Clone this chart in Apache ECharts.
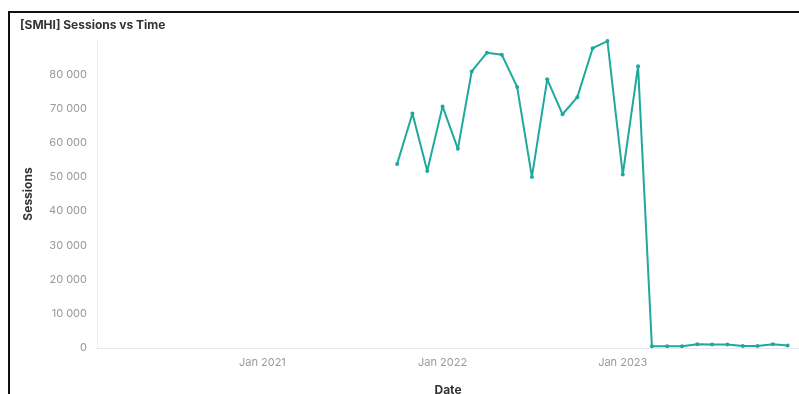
<!DOCTYPE html>
<html>
<head>
<meta charset="utf-8">
<script src="https://cdn.jsdelivr.net/npm/echarts@6/dist/echarts.min.js"></script>
<style>
html,body{margin:0;padding:0;background:#fff;overflow:hidden;}
#c{width:799px;height:394px;}
</style>
</head>
<body>
<div id="c"></div>
<script>
const titleText = '[SMHI] Sessions vs Time';
const dates = ['2021-10-01','2021-11-01','2021-12-01','2022-01-01','2022-02-01','2022-03-01','2022-04-01','2022-05-01','2022-06-01','2022-07-01','2022-08-01','2022-09-01','2022-10-01','2022-11-01','2022-12-01','2023-01-01','2023-02-01','2023-03-01','2023-04-01','2023-05-01','2023-06-01','2023-07-01','2023-08-01','2023-09-01','2023-10-01','2023-11-01','2023-12-01'];
const sessions = [53800,68500,51700,70600,58200,80800,86300,85700,76300,50000,78500,68300,73300,87600,89700,50700,82300,500,500,500,1100,1000,1000,600,600,1100,700];
const xMin = '2020-02-01';
const xMax = '2023-12-24';
const yMax = 90000;
const yInterval = 10000;

const chart = echarts.init(document.getElementById('c'));
const font = 'Inter, "Noto Sans", sans-serif';
chart.setOption({
  animation: false,
  title: {
    text: titleText, left: 15, top: 14,
    textStyle: {fontFamily: font, fontSize: 12, fontWeight: 'bold', color: '#333'}
  },
  graphic: [
    {type: 'rect', shape: {x: 8, y: 11, width: 791, height: 2}, style: {fill: '#111'}},
    {type: 'rect', shape: {x: 8, y: 11, width: 2, height: 383}, style: {fill: '#111'}}
  ],
  grid: {left: 97, right: 0, top: 40, bottom: 46, outerBoundsMode: 'none', containLabel: false},
  xAxis: {
    type: 'time', min: xMin, max: xMax,
    name: 'Date', nameLocation: 'middle', nameGap: 36,
    nameTextStyle: {fontFamily: font, fontSize: 12, fontWeight: 'bold', color: '#333'},
    axisLine: {show: true, lineStyle: {color: '#e6e6ec', width: 1}},
    axisTick: {show: false},
    splitLine: {show: false},
    axisLabel: {
      fontFamily: font, fontSize: 11, color: '#999', margin: 9,
      hideOverlap: false,
      formatter: function (v) {
        const d = new Date(v);
        if (d.getMonth() === 0 && d.getDate() === 1) return 'Jan ' + d.getFullYear();
        return '';
      }
    }
  },
  yAxis: {
    type: 'value', min: 0, max: yMax, interval: yInterval,
    name: 'Sessions', nameLocation: 'middle', nameGap: 63,
    nameTextStyle: {fontFamily: font, fontSize: 12, fontWeight: 'bold', color: '#333'},
    axisLine: {show: true, lineStyle: {color: '#eeeef2', width: 1}},
    axisTick: {show: false},
    splitLine: {show: false},
    axisLabel: {
      fontFamily: font, fontSize: 11, color: '#999', margin: 10, showMaxLabel: false,
      formatter: function (v) { return String(v).replace(/\B(?=(\d{3})+(?!\d))/g, ' '); }
    }
  },
  series: [{
    type: 'line',
    data: dates.map((d, i) => [d, sessions[i]]),
    symbol: 'circle', symbolSize: 4, showSymbol: true,
    lineStyle: {color: '#1ea99d', width: 2},
    itemStyle: {color: '#1ea99d'}
  }]
});
</script>
</body>
</html>
